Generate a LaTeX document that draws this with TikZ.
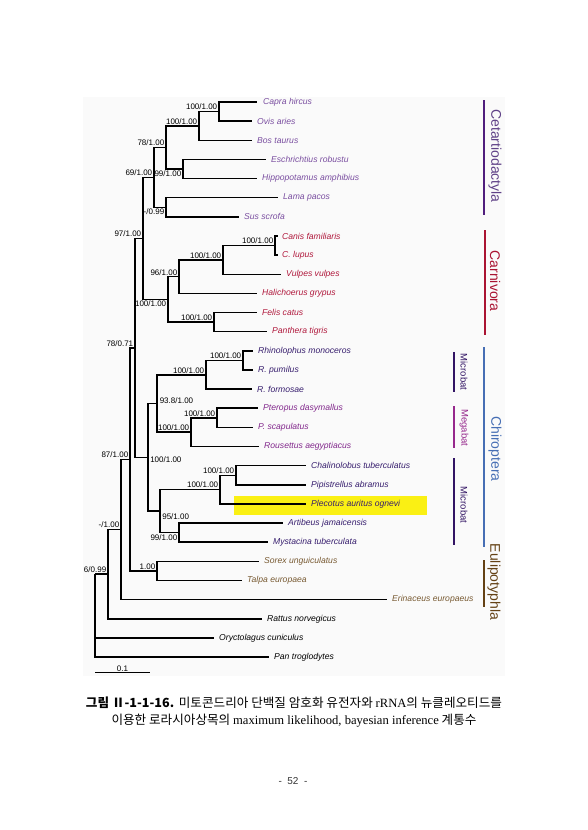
\documentclass[tikz,border=0pt]{standalone}
\usepackage{fontspec}
\usetikzlibrary{calc}
\setmainfont{Liberation Sans}
\newfontfamily\krfont{Noto Sans CJK KR}
\newfontfamily\seriffont{Liberation Serif}
\definecolor{cetc}{RGB}{122,78,160}
\definecolor{cetbar}{RGB}{80,30,125}
\definecolor{cettxt}{RGB}{95,65,135}
\definecolor{carc}{RGB}{176,24,60}
\definecolor{carbar}{RGB}{170,20,50}
\definecolor{micc}{RGB}{55,30,110}
\definecolor{micbar}{RGB}{50,20,100}
\definecolor{megc}{RGB}{130,40,140}
\definecolor{megbar}{RGB}{150,40,140}
\definecolor{chic}{RGB}{70,110,180}
\definecolor{eulc}{RGB}{120,90,50}
\definecolor{eulbar}{RGB}{100,65,20}
\definecolor{hl}{RGB}{250,240,20}
\begin{document}
\begin{tikzpicture}[x=1pt,y=-1pt,
  br/.style={line width=1.5pt},
  sp/.style={font=\fontsize{8.6}{9}\itshape, inner sep=0pt, anchor=west},
  cet/.style={sp, text=cetc},
  car/.style={sp, text=carc},
  mic/.style={sp, text=micc},
  meg/.style={sp, text=megc},
  eul/.style={sp, text=eulc},
  blk/.style={sp, text=black},
  sup/.style={font=\fontsize{8}{8.5}\selectfont, inner sep=0.6pt},
  ab/.style={sup, anchor=south east, xshift=-1pt, yshift=0.8pt},
  be/.style={sup, anchor=north east, xshift=-1pt, yshift=-0.8pt},
  grp/.style={rotate=-90, font=\fontsize{14}{14}\selectfont, inner sep=0pt},
  sub/.style={rotate=-90, font=\fontsize{9.5}{10}\selectfont, inner sep=0pt},
  bar/.style={line width=2pt}]
\useasboundingbox (0,0) rectangle (587,830);
\fill[white] (0,0) rectangle (587,830);
\fill[black!2] (83,97) rectangle (505,676);
\fill[hl] (234,496) rectangle (427,515);

% tips
\node[cet] (t0) at (263,102.0) {Capra hircus};
\node[cet] (t1) at (257,121.1) {Ovis aries};
\node[cet] (t2) at (257,140.3) {Bos taurus};
\node[cet] (t3) at (271,159.4) {Eschrichtius robustu};
\node[cet] (t4) at (262,178.6) {Hippopotamus amphibius};
\node[cet] (t5) at (283,197.7) {Lama pacos};
\node[cet] (t6) at (244,216.8) {Sus scrofa};
\node[car] (t7) at (282,236.0) {Canis familiaris};
\node[car] (t8) at (282,255.1) {C. lupus};
\node[car] (t9) at (286,274.3) {Vulpes vulpes};
\node[car] (t10) at (262,293.4) {Halichoerus grypus};
\node[car] (t11) at (262,312.5) {Felis catus};
\node[car] (t12) at (272,331.7) {Panthera tigris};
\node[mic] (t13) at (258,350.8) {Rhinolophus monoceros};
\node[mic] (t14) at (258,370.0) {R. pumilus};
\node[mic] (t15) at (257,389.1) {R. formosae};
\node[meg] (t16) at (263,408.2) {Pteropus dasymallus};
\node[meg] (t17) at (258,427.4) {P. scapulatus};
\node[meg] (t18) at (264,446.5) {Rousettus aegyptiacus};
\node[mic] (t19) at (311,465.7) {Chalinolobus tuberculatus};
\node[mic] (t20) at (311,484.8) {Pipistrellus abramus};
\node[mic] (t21) at (311,503.9) {Plecotus auritus ognevi};
\node[mic] (t22) at (288,523.1) {Artibeus jamaicensis};
\node[mic] (t23) at (273,542.2) {Mystacina tuberculata};
\node[eul] (t24) at (264,561.4) {Sorex unguiculatus};
\node[eul] (t25) at (247,580.5) {Talpa europaea};
\node[eul] (t26) at (392,599.6) {Erinaceus europaeus};
\node[blk] (t27) at (267,618.8) {Rattus norvegicus};
\node[blk] (t28) at (219,637.9) {Oryctolagus cuniculus};
\node[blk] (t29) at (274,657.1) {Pan troglodytes};

% tip ends
\coordinate (e0) at (257,102.0);
\coordinate (e1) at (252,121.1);
\coordinate (e2) at (252,140.3);
\coordinate (e3) at (266,159.4);
\coordinate (e4) at (257,178.6);
\coordinate (e5) at (278,197.7);
\coordinate (e6) at (239,216.8);
\coordinate (e7) at (278,236.0);
\coordinate (e8) at (278,255.1);
\coordinate (e9) at (281,274.3);
\coordinate (e10) at (257,293.4);
\coordinate (e11) at (257,312.5);
\coordinate (e12) at (267,331.7);
\coordinate (e13) at (253,350.8);
\coordinate (e14) at (253,370.0);
\coordinate (e15) at (252,389.1);
\coordinate (e16) at (258,408.2);
\coordinate (e17) at (253,427.4);
\coordinate (e18) at (259,446.5);
\coordinate (e19) at (306,465.7);
\coordinate (e20) at (306,484.8);
\coordinate (e21) at (306,503.9);
\coordinate (e22) at (283,523.1);
\coordinate (e23) at (268,542.2);
\coordinate (e24) at (259,561.4);
\coordinate (e25) at (242,580.5);
\coordinate (e26) at (387,599.6);
\coordinate (e27) at (262,618.8);
\coordinate (e28) at (214,637.9);
\coordinate (e29) at (269,657.1);

% internal nodes
\coordinate (A1) at (219,111.6);
\coordinate (A2) at (199,126.0);
\coordinate (A3) at (183,169.0);
\coordinate (A23) at (166,147.5);
\coordinate (LS) at (166,207.3);
\coordinate (A4) at (154,177.4);
\coordinate (C1) at (275,245.6);
\coordinate (C2) at (223,259.9);
\coordinate (C3) at (179,276.7);
\coordinate (FP) at (214,322.1);
\coordinate (CAR) at (168,299.4);
\coordinate (N97) at (143,238.4);
\coordinate (R1) at (243,360.4);
\coordinate (R2) at (206,374.8);
\coordinate (P1) at (217,417.8);
\coordinate (P2) at (191,432.2);
\coordinate (N938) at (157,403.5);
\coordinate (V1) at (236,475.3);
\coordinate (V2) at (220,489.6);
\coordinate (V3) at (179,532.7);
\coordinate (N95) at (160,511.1);
\coordinate (CHI) at (148,457.3);
\coordinate (N78) at (135,347.9);
\coordinate (EU) at (157,571.0);
\coordinate (N87) at (130,459.4);
\coordinate (N121) at (121,529.5);
\coordinate (N108) at (108,574.2);
\coordinate (ROOT) at (95,574.2);

% branches
\draw[br] (A1) |- (e0);
\draw[br] (A1) |- (e1);
\draw[br] (A2) |- (A1);
\draw[br] (A2) |- (e2);
\draw[br] (A3) |- (e3);
\draw[br] (A3) |- (e4);
\draw[br] (A23) |- (A2);
\draw[br] (A23) |- (A3);
\draw[br] (LS) |- (e5);
\draw[br] (LS) |- (e6);
\draw[br] (A4) |- (A23);
\draw[br] (A4) |- (LS);
\draw[br] (C1) |- (e7);
\draw[br] (C1) |- (e8);
\draw[br] (C2) |- (C1);
\draw[br] (C2) |- (e9);
\draw[br] (C3) |- (C2);
\draw[br] (C3) |- (e10);
\draw[br] (FP) |- (e11);
\draw[br] (FP) |- (e12);
\draw[br] (CAR) |- (C3);
\draw[br] (CAR) |- (FP);
\draw[br] (N97) |- (A4);
\draw[br] (N97) |- (CAR);
\draw[br] (R1) |- (e13);
\draw[br] (R1) |- (e14);
\draw[br] (R2) |- (R1);
\draw[br] (R2) |- (e15);
\draw[br] (P1) |- (e16);
\draw[br] (P1) |- (e17);
\draw[br] (P2) |- (P1);
\draw[br] (P2) |- (e18);
\draw[br] (N938) |- (R2);
\draw[br] (N938) |- (P2);
\draw[br] (V1) |- (e19);
\draw[br] (V1) |- (e20);
\draw[br] (V2) |- (V1);
\draw[br] (V2) |- (e21);
\draw[br] (V3) |- (e22);
\draw[br] (V3) |- (e23);
\draw[br] (N95) |- (V2);
\draw[br] (N95) |- (V3);
\draw[br] (CHI) |- (N938);
\draw[br] (CHI) |- (N95);
\draw[br] (N78) |- (N97);
\draw[br] (N78) |- (CHI);
\draw[br] (EU) |- (e24);
\draw[br] (EU) |- (e25);
\draw[br] (N87) |- (N78);
\draw[br] (N87) |- (EU);
\draw[br] (N121) |- (N87);
\draw[br] (N121) |- (e26);
\draw[br] (N108) |- (N121);
\draw[br] (N108) |- (e27);
\draw[br] (ROOT) |- (N108);
\draw[br] (ROOT) |- (e28);
\draw[br] (ROOT) |- (e29);

% support values
\node[ab] (s1) at (A1) {100/1.00};
\node[ab] (s2) at (A2) {100/1.00};
\node[be] (s3) at (A3) {99/1.00};
\node[ab] (s4) at (A23) {78/1.00};
\node[be] (s5) at (LS) {-/0.99};
\node[ab] (s6) at (A4) {69/1.00};
\node[ab] (s7) at (C1) {100/1.00};
\node[ab] (s8) at (C2) {100/1.00};
\node[ab] (s9) at (C3) {96/1.00};
\node[ab] (s10) at (FP) {100/1.00};
\node[be] (s11) at (CAR) {100/1.00};
\node[ab] (s12) at (N97) {97/1.00};
\node[ab] (s13) at (R1) {100/1.00};
\node[ab] (s14) at (R2) {100/1.00};
\node[ab] (s15) at (P1) {100/1.00};
\node[ab] (s16) at (P2) {100/1.00};
\node[sup, anchor=south west, xshift=2pt, yshift=-0.5pt] (s17) at (N938) {93.8/1.00};
\node[ab] (s18) at (V1) {100/1.00};
\node[ab] (s19) at (V2) {100/1.00};
\node[be] (s20) at (V3) {99/1.00};
\node[sup, anchor=north west, xshift=1.5pt, yshift=-2pt] (s21) at (N95) {95/1.00};
\node[sup, anchor=west, xshift=1.5pt, yshift=-2pt] (s22) at (CHI) {100/1.00};
\node[ab] (s23) at (N78) {78/0.71};
\node[ab] (s24) at (EU) {1.00};
\node[ab] (s25) at (N87) {87/1.00};
\node[ab] (s26) at (N121) {-/1.00};
\node[ab] (s27) at (N108) {6/0.99};

% scale bar
\coordinate (sb1) at (95,672);
\coordinate (sb2) at (150,672);
\draw[line width=0.8pt] (sb1) -- (sb2);
\node[sup, anchor=south] (sbl) at ($(sb1)!0.5!(sb2)$) {0.1};

% group bars and labels
\draw[bar, cetbar] (484,100) -- (484,215);
\node[grp, text=cettxt] (gcet) at (495,156) {Cetartiodactyla};
\draw[bar, carbar] (485,230) -- (485,335);
\node[grp, text=carbar] (gcar) at (495,281) {Carnivora};
\draw[bar, micbar] (454,352) -- (454,392);
\node[sub, text=micbar] (gmic1) at (464,372) {Microbat};
\draw[bar, megbar] (454,406) -- (454,448);
\node[sub, text=megbar] (gmeg) at (464,428) {Megabat};
\draw[bar, micbar] (454,458) -- (454,545);
\node[sub, text=micbar] (gmic2) at (464,505) {Microbat};
\draw[bar, chic] (484,347) -- (484,547);
\node[grp, text=chic] (gchi) at (495,449) {Chiroptera};
\draw[bar, eulbar] (484,560) -- (484,607);
\node[grp, text=eulbar] (geul) at (494,582) {Eulipotyphla};

% caption
\node[inner sep=0pt, font=\fontsize{12.6}{14}\selectfont] (cap1) at (294,703)
  {{\krfont\bfseries 그림 Ⅱ-1-1-16.} {\krfont 미토콘드리아 단백질 암호화 유전자와 }{\seriffont rRNA}{\krfont 의 뉴클레오티드를}};
\node[inner sep=0pt, font=\fontsize{12.6}{14}\selectfont] (cap2) at (294,721)
  {{\krfont 이용한 로라시아상목의 }{\seriffont maximum likelihood, bayesian inference}{\krfont\ 계통수}};
\node[inner sep=0pt, font=\fontsize{10}{11}\selectfont, text=black!80] (pg) at (293,781) {-\ \ 52\ \ -};
\end{tikzpicture}
\end{document}
